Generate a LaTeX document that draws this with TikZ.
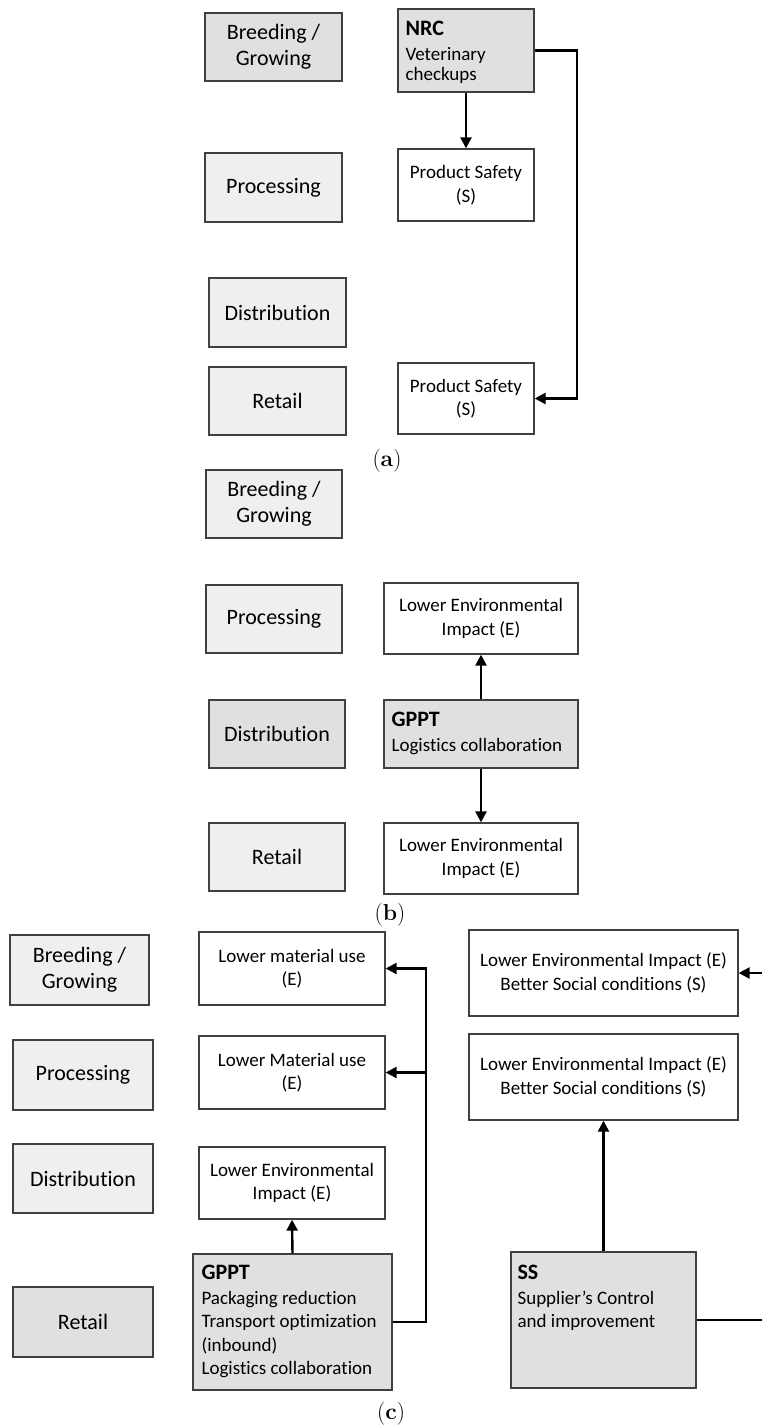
\documentclass[tikz,border=0pt]{standalone}
\usepackage{fontspec}
\setsansfont[Ligatures={NoCommon,NoContextual}]{Carlito}
\usetikzlibrary{arrows.meta}
\definecolor{stagefill}{HTML}{EFEFEF}
\definecolor{darkfill}{HTML}{E0E0E0}
\definecolor{edgegray}{HTML}{404040}
\tikzset{
  box/.style={draw=edgegray, line width=1.3pt, inner sep=0pt},
  stage/.style={box, fill=stagefill, align=center, font={\sffamily\fontsize{22}{26}\selectfont}},
  stagedark/.style={stage, fill=darkfill},
  outcome/.style={box, fill=white, align=center, font={\sffamily\fontsize{19}{23.5}\selectfont}},
  practice/.style={box, fill=darkfill},
  ptext/.style={anchor=north west, inner sep=0pt, align=left, font={\sffamily\fontsize{19}{23.5}\selectfont}},
  arr/.style={line width=2.4pt, -{Triangle[length=11pt,width=11pt]}},
  link/.style={line width=2.4pt},
  captext/.style={font={\fontsize{23}{26}\selectfont}}
}
\newcommand{\hdr}[1]{{\fontsize{22}{26}\selectfont\bfseries #1}}
\begin{document}
\begin{tikzpicture}[x=1pt,y=-1pt]
\useasboundingbox (0,0) rectangle (762,1428);
\clip (0,0) rectangle (762,1428);
% ---------- (a) ----------
\node[stagedark, minimum width=137pt, minimum height=68pt] (a1) at (273.5,47) {Breeding /\\Growing};
\node[stage, minimum width=137pt, minimum height=69pt] (a2) at (273.5,187.5) {Processing};
\node[stage, minimum width=137pt, minimum height=69pt] (a3) at (277.5,312.5) {Distribution};
\node[stage, minimum width=137pt, minimum height=68pt] (a4) at (277.5,401) {Retail};
\node[practice, minimum width=136pt, minimum height=83pt] (nrc) at (466,50.5) {};
\node[ptext] (nrct) at ([xshift=8pt,yshift=-13pt]nrc.north west) {\hdr{NRC}\\[1pt]Veterinary\\[-3pt]checkups};
\node[outcome, minimum width=136pt, minimum height=72pt] (ps1) at (466,185) {Product Safety\\(S)};
\node[outcome, minimum width=136pt, minimum height=71pt] (ps2) at (466,398.5) {Product Safety\\(S)};
\draw[arr] (nrc.south) -- (ps1.north);
\coordinate (ra) at (577,0);
\draw[arr] (nrc.east) -- (nrc.east -| ra) |- (ps2.east);
\node[captext] (capa) at (387,461) {(\textbf{a})};
% ---------- (b) ----------
\node[stage, minimum width=136pt, minimum height=68pt] (b1) at (274,504) {Breeding /\\Growing};
\node[stage, minimum width=136pt, minimum height=68pt] (b2) at (274,619) {Processing};
\node[stagedark, minimum width=136pt, minimum height=68pt] (b3) at (277,734) {Distribution};
\node[stage, minimum width=136pt, minimum height=68pt] (b4) at (277,857) {Retail};
\node[outcome, minimum width=194pt, minimum height=71pt] (le1) at (481,618.5) {Lower Environmental\\Impact (E)};
\node[practice, minimum width=194pt, minimum height=68pt] (gppt) at (481,734) {};
\node[ptext] (gpptt) at ([xshift=8pt,yshift=-13pt]gppt.north west) {\hdr{GPPT}\\[1pt]Logistics collaboration};
\node[outcome, minimum width=194pt, minimum height=71pt] (le2) at (481,858.5) {Lower Environmental\\Impact (E)};
\draw[arr] (gppt.north) -- (le1.south);
\draw[arr] (gppt.south) -- (le2.north);
\node[captext] (capb) at (390,915) {(\textbf{b})};
% ---------- (c) ----------
\node[stage, minimum width=139pt, minimum height=70pt] (c1) at (79.5,970) {Breeding /\\Growing};
\node[stage, minimum width=140pt, minimum height=70pt] (c2) at (83,1075) {Processing};
\node[stage, minimum width=140pt, minimum height=69pt] (c3) at (83,1178.5) {Distribution};
\node[stagedark, minimum width=140pt, minimum height=70pt] (c4) at (83,1322) {Retail};
\node[outcome, minimum width=186pt, minimum height=73pt] (lm1) at (292,968.5) {Lower material use\\(E)};
\node[outcome, minimum width=186pt, minimum height=73pt] (lm2) at (292,1072.5) {Lower Material use\\(E)};
\node[outcome, minimum width=186pt, minimum height=72pt] (le3) at (292,1183) {Lower Environmental\\Impact (E)};
\node[practice, minimum width=199pt, minimum height=136pt] (gppt2) at (292.5,1322) {};
\node[ptext] (gppt2t) at ([xshift=9pt,yshift=-12pt]gppt2.north west) {\hdr{GPPT}\\[1pt]Packaging reduction\\Transport optimization\\(inbound)\\Logistics collaboration};
\draw[arr] (gppt2.north) -- (le3.south);
\coordinate (rc) at (426,0);
\draw[arr] (gppt2.east) -- (gppt2.east -| rc) |- (lm1.east);
\draw[arr] (lm2.east -| rc) -- (lm2.east);
\node[outcome, minimum width=269pt, minimum height=86pt] (r1) at (603.5,973) {Lower Environmental Impact (E)\\Better Social conditions (S)};
\node[outcome, minimum width=269pt, minimum height=86pt] (r2) at (603.5,1077) {Lower Environmental Impact (E)\\Better Social conditions (S)};
\node[practice, minimum width=185pt, minimum height=136pt] (ss) at (603.5,1320) {};
\node[ptext] (sst) at ([xshift=7pt,yshift=-14pt]ss.north west) {\hdr{SS}\\[1pt]Supplier’s Control\\and improvement};
\draw[arr] (ss.north) -- (r2.south);
\coordinate (rr) at (770,0);
\draw[arr] (ss.east) -- (ss.east -| rr) |- (r1.east);
\node[captext] (capc) at (391,1414) {(\textbf{c})};
\end{tikzpicture}
\end{document}
